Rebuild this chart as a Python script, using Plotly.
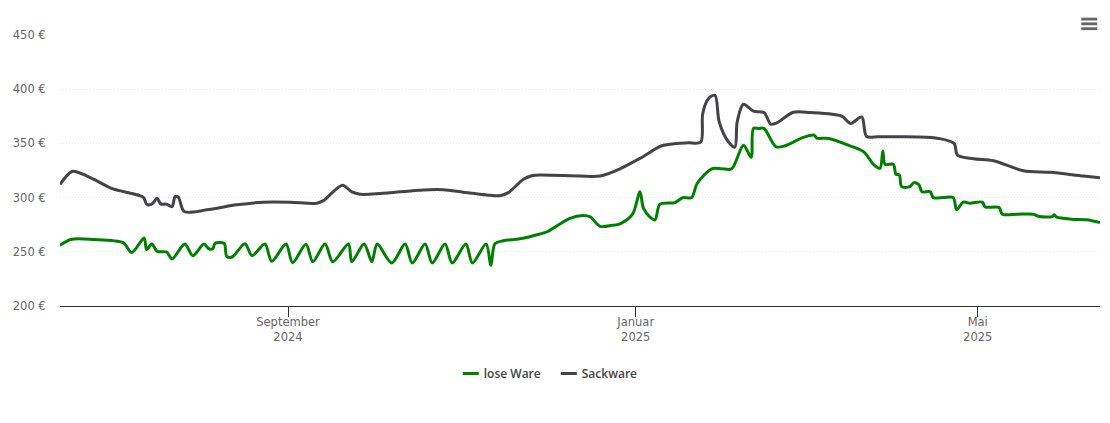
import pandas as pd
import plotly.graph_objects as go

START = pd.Timestamp("2024-06-13")
END_DAY = 364.9

# days since START, euro values
lose_days = [0, 3.75, 11.6, 22.1, 25.2, 29.5, 30.4, 32.2, 34.1, 37.4, 39.3, 43.8, 46.6, 50.5, 52.2, 53.6, 54.4, 57.6,
             58.5, 60.4, 64.9, 67.4, 71.9, 74.3, 79.3, 81.6, 86.3, 88.7, 93, 95.7, 101.2, 102.4, 106.7, 109.4, 111.3,
             116.4, 121.1, 123.6, 128.1, 130.6, 135.1, 137.6, 142.4, 144.7, 149.5, 151.2, 152.6, 155.5, 161.4, 168.4,
             170.9, 178.9, 183.5, 186, 189.5, 193.7, 196.5, 200.9, 203.5, 204.7, 207, 208.8, 210.5, 215.8, 218.5,
             221.6, 223.6, 228.7, 232.2, 235.7, 239.8, 242.5, 243.3, 245.1, 247, 251.2, 254.4, 260.8, 264.6, 265.5, 269.6, 277.2,
             282.1, 285.4, 287.7, 288.7, 289.5, 292.4, 293.3, 294.5, 295.3, 298.2, 299.6, 301.4, 302.4, 305.3, 306.4,
             310, 313.4, 314.6, 316.9, 319.3, 323.6, 324.6, 329.5, 330.6, 336, 341.5, 343.5, 348.2, 348.8, 349.7, 355, 360.2,
             364.9]
lose_values = [255.9, 261.4, 261.4, 258.4, 249.4, 262.7, 251.9, 257.2, 250.4, 249.8, 243.4, 257.2, 246.4, 257.2, 252.8,
               252.8, 257.7, 257.7, 245.8, 245.2, 257.4, 246.4, 257.2, 241.2, 257.2, 240, 257, 240.9, 257.2, 240.9,
               257.2, 240.9, 257.2, 240.9, 257.2, 239.7, 257.2, 239.7, 257.2, 239.7, 257.2, 239.7, 257.2, 239.7, 257.2,
               237.5, 257.4, 260.2, 262, 266.4, 268.5, 280.9, 283.6, 282.3, 273.5, 274.4, 275.8, 284.7, 305.5, 290.2,
               282, 279.5, 293.9, 295.4, 300, 300, 313.2, 326.6, 326.6, 326.6, 348.4, 337.1, 363.8, 363.8, 363.8, 346.9, 347.8,
               355.5, 357.6, 354.9, 354.6, 347.8, 342, 330.7, 327, 342.9, 330.7, 330.7, 321.5, 320.9, 310.1, 310.1,
               313.8, 311.7, 305.5, 305.5, 300, 300, 300, 288.7, 295.8, 294.8, 295.8, 291.4, 290.8, 284.7, 284.7, 284.7, 282.5,
               282.5, 284.1, 282, 280.1, 279.5, 277]

sack_days = [0, 4.2, 7, 12.3, 18.6, 29.2, 30.4, 32.2, 34.1, 35.3, 37.4, 39.3, 40.4, 41.5, 43.6, 51.5, 62, 71.3, 80.7,
             90.1, 92.4, 99.1, 102.4, 105.3, 112.3, 127.5, 134.5, 141.5, 149.7, 154.4, 157.3, 162.6, 165.5, 168.4,
             182.5, 189.5, 196.5, 203.5, 211.1, 216.4, 220.5, 224.8, 225.5, 227.5, 229.8, 231.3, 234.5, 236.8, 237.6, 239.8,
             243.3, 247, 249.4, 251.5, 257.3, 263.2, 274.3, 277.4, 281.3, 283, 287, 294, 300.6, 308.2, 313.7, 314.9, 320.5,
             327.5, 338, 347.4, 359.1, 364.9]
sack_values = [312.3, 324.1, 322.7, 316.3, 308, 300.4, 293.9, 293.9, 299.4, 294.2, 293.9, 291.7, 300.9, 300.4, 287.1,
               288.7, 293.3, 295.8, 295.8, 294.8, 297.2, 311.4, 305.2, 303.1, 303.7, 307.1, 307.3, 305, 302.5, 301.8,
               304.6, 316.9, 320.2, 320.9, 319.9, 319.9, 326.6, 336.2, 347.8, 350, 350.6, 351.2, 377.5, 391.3, 394.4, 369.8,
               351.5, 346.6, 369.8, 386.1, 379.7, 378.5, 367.7, 368.9, 378.7, 378.5, 375.1, 368.4, 374.4, 356.4, 356.2, 356.1, 356,
               354.6, 350, 339.2, 335.8, 334, 324.8, 323.3, 319.9, 318.4]

x_ticks = ["2024-09-01", "2025-01-01", "2025-05-01"]
x_labels = ["September<br>2024", "Januar<br>2025", "Mai<br>2025"]
y_ticks = [200, 250, 300, 350, 400, 450]
y_labels = ["200 €", "250 €", "300 €", "350 €", "400 €", "450 €"]


def dates(days):
    return START + pd.to_timedelta(days, unit="D")


FONT = "DejaVu Sans"
fig = go.Figure()
for name, days, vals, color in [("lose Ware", lose_days, lose_values, "#008000"),
                                ("Sackware", sack_days, sack_values, "#434348")]:
    fig.add_trace(go.Scatter(x=dates(days), y=vals, name=name, mode="lines",
                             line=dict(color=color, width=3, shape="spline", smoothing=0.85),
                             hovertemplate="%{y} €<extra>%{fullData.name}</extra>"))

menu_bars = [(0.9820, 0.9973, 1.0640, 1.0535), (0.9820, 0.9973, 1.0465, 1.0360), (0.9820, 0.9973, 1.0285, 1.0180)]
shapes = [dict(type="rect", xref="paper", yref="paper", x0=a, x1=b, y0=c, y1=d,
               fillcolor="#666666", line=dict(width=0)) for a, b, c, d in menu_bars]

fig.update_layout(
    width=1110, height=423,
    margin=dict(l=60, r=10, t=34.5, b=116.5),
    paper_bgcolor="white", plot_bgcolor="white",
    font=dict(family=FONT, size=11.5, color="#666666"),
    xaxis=dict(type="date", range=[dates(0), dates(END_DAY)], tickvals=x_ticks, ticktext=x_labels,
               ticks="outside", ticklen=10, tickcolor="#333333", tickwidth=1, ticklabelstandoff=-5,
               showline=True, linecolor="#333333", linewidth=1, showgrid=False, zeroline=False,
               tickfont=dict(size=11.5, color="#666666")),
    yaxis=dict(range=[200, 450], tickvals=y_ticks, ticktext=y_labels, ticks="outside", ticklen=11,
               tickcolor="rgba(0,0,0,0)", showline=False, zeroline=False,
               showgrid=True, gridcolor="#e6e6e6", griddash="1px,2px", gridwidth=1,
               tickfont=dict(size=11.5, color="#666666")),
    legend=dict(orientation="h", x=0.369, xanchor="left", y=-0.196, yanchor="top",
                font=dict(family="Open Sans", size=12, color="#444444", weight=600),
                itemwidth=30, entrywidth=53, entrywidthmode="pixels"),
    shapes=shapes,
)
fig.write_html("out.html", config=dict(displayModeBar=False),
               post_script="document.body.style.margin='0';"
                           "document.querySelectorAll('.legendlines path').forEach(function(p){p.setAttribute('d','M19,0h16');});")
